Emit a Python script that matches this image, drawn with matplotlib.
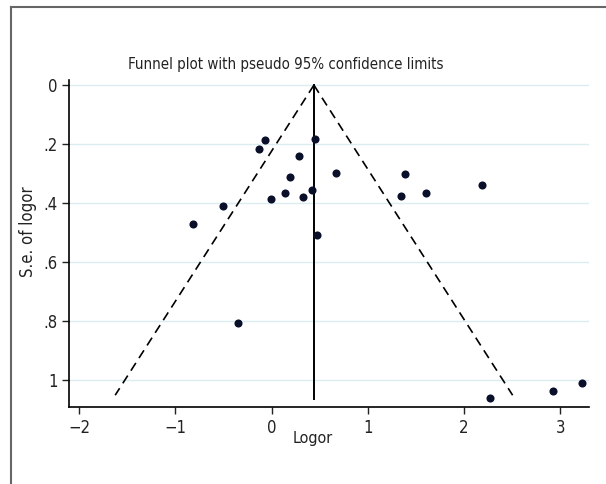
import matplotlib
matplotlib.use("Agg")
import matplotlib.pyplot as plt
from matplotlib.lines import Line2D
import numpy as np

plt.rcParams["font.family"] = ["DejaVu Sans"]
plt.rcParams["font.stretch"] = "condensed"

# ── Data ─────────────────────────────────────────────────────────────────────
logor = [-0.82, -0.50, -0.13, -0.07, -0.01, 0.14, 0.19, 0.29, 0.33, 0.42,
         0.45, 0.47, 0.67, 1.39, 1.34, 1.60, 2.19, -0.35, 2.27, 2.92, 3.22]
se_logor = [0.471, 0.409, 0.216, 0.187, 0.386, 0.368, 0.312, 0.241, 0.381, 0.355,
            0.184, 0.509, 0.299, 0.303, 0.377, 0.366, 0.339, 0.807, 1.064, 1.039, 1.010]
pooled = 0.44
se_max = 1.053
x_ticks = [-2, -1, 0, 1, 2, 3]
x_ticklabels = ["\u22122", "\u22121", "0", "1", "2", "3"]
y_ticks = [0, 0.2, 0.4, 0.6, 0.8, 1.0]
y_ticklabels = ["0", ".2", ".4", ".6", ".8", "1"]

fig = plt.figure(figsize=(6.06, 4.84), dpi=100)
ax = fig.add_axes([0.1144, 0.1585, 0.858, 0.676])

# grid
for yt in y_ticks:
    ax.axhline(yt, color="#dcedf2", lw=1.0, zorder=0)

# pseudo 95% limits
se_line = np.array([0, se_max])
ax.plot(pooled - 1.96 * se_line, se_line, color="black", lw=1.2, ls=(0, (5.5, 3.5)), zorder=2)
ax.plot(pooled + 1.96 * se_line, se_line, color="black", lw=1.2, ls=(0, (5.5, 3.5)), zorder=2)
ax.plot([pooled, pooled], [0, 1.066], color="black", lw=1.4, zorder=2)

ax.scatter(logor, se_logor, s=34, color="#0a0f2a", zorder=3, linewidths=0)

ax.set_xlim(-2.10, 3.30)
ax.set_ylim(1.094, -0.017)
ax.set_xticks(x_ticks)
ax.set_xticklabels(x_ticklabels)
ax.set_yticks(y_ticks)
ax.set_yticklabels(y_ticklabels)
ax.tick_params(direction="out", length=5, width=1, labelsize=12, colors="#222222")
ax.spines["top"].set_visible(False)
ax.spines["right"].set_visible(False)
for s in ("left", "bottom"):
    ax.spines[s].set_linewidth(1.2)

fig.text(286 / 606, 1 - 65 / 484, "Funnel plot with pseudo 95% confidence limits",
         ha="center", va="center", fontsize=10.8, color="#222222")
fig.text(313 / 606, 1 - 439 / 484, "Logor", ha="center", va="center",
         fontsize=11.5, color="#222222")
fig.text(28 / 606, 1 - 232 / 484, "S.e. of logor", ha="center", va="center",
         rotation=90, fontsize=12, color="#222222")

# outer frame (top and left edges)
fig.add_artist(Line2D([11 / 606, 11 / 606], [0, 1 - 7 / 484], color="#666666", lw=1.5))
fig.add_artist(Line2D([11 / 606, 1], [1 - 7 / 484, 1 - 7 / 484], color="#666666", lw=1.5))

fig.savefig("out.png", dpi=100)
